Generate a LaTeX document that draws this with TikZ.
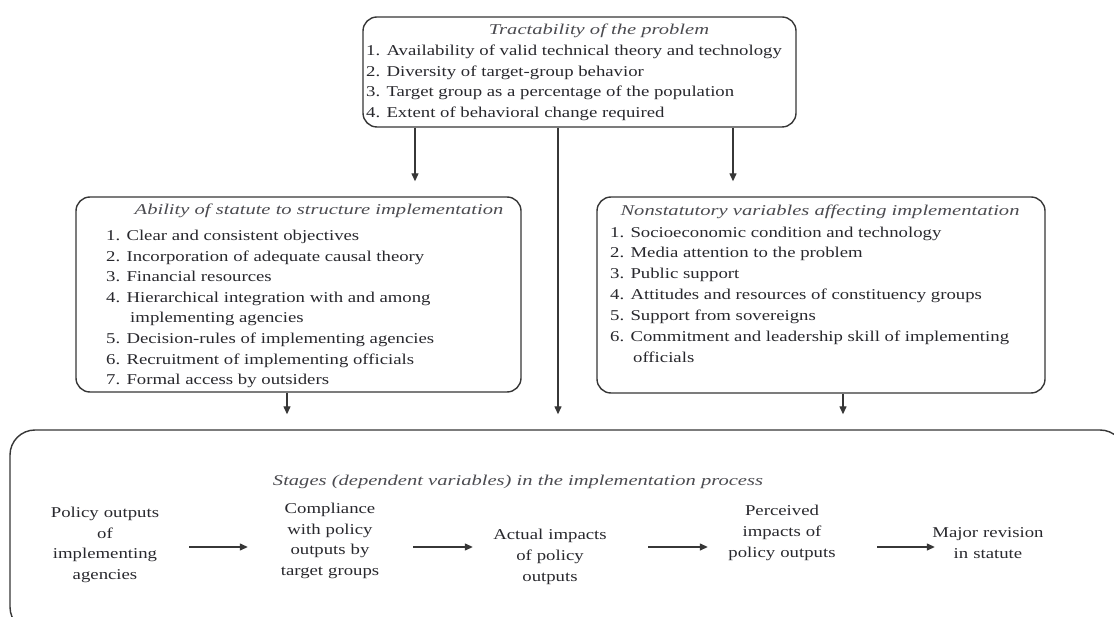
\documentclass[tikz,border=0pt]{standalone}
\usepackage{fontspec}
\setmainfont{Liberation Serif}[FakeStretch=1.25]
\newfontfamily\ttlfont{Liberation Serif}[FakeStretch=1.37]
\usetikzlibrary{arrows.meta,calc}
\definecolor{ink}{RGB}{40,40,45}
\definecolor{linec}{RGB}{55,55,55}
\definecolor{ttlc}{RGB}{75,75,80}
\tikzset{
  panel/.style={draw=linec, line width=1.4pt, rounded corners=14pt, inner sep=0pt},
  bodyline/.style={inner sep=0pt, text=ink, font=\fontsize{15}{20}\selectfont, anchor=base west},
  ttl/.style={inner sep=0pt, text=ttlc, font=\ttlfont\itshape\fontsize{15}{20}\selectfont, anchor=base},
  stage/.style={inner sep=0pt, text=ink, font=\fontsize{15}{20.8}\selectfont, align=center},
  arr/.style={draw=linec, line width=1.3pt, -{Triangle[length=8pt,width=7pt]}},
}
\begin{document}
\begin{tikzpicture}[x=1pt,y=-1pt]
\useasboundingbox (0,0) rectangle (1114,617);
\clip (0,0) rectangle (1114,617);
\fill[white] (0,0) rectangle (1114,617);

% boxes
\node[panel, minimum width=433pt, minimum height=110pt] (top) at (579.5,72) {};
\node[panel, minimum width=445pt, minimum height=195pt] (left) at (298.5,294.5) {};
\node[panel, minimum width=448pt, minimum height=196pt] (right) at (821,295) {};
\node[panel, rounded corners=25pt, minimum width=1115pt, minimum height=202pt] (bottom) at (567.5,531) {};

% top box text
\node[ttl] (ttop) at (599,35) {Tractability of the problem};
\node[bodyline] (t1) at (366,56) {1. Availability of valid technical theory and technology};
\node[bodyline] (t2) at (366,76.5) {2. Diversity of target-group behavior};
\node[bodyline] (t3) at (366,97) {3. Target group as a percentage of the population};
\node[bodyline] (t4) at (366,117.5) {4. Extent of behavioral change required};

% left box text
\node[ttl] (tleft) at (319,215) {Ability of statute to structure implementation};
\node[bodyline] (l1) at (106,241) {1. Clear and consistent objectives};
\node[bodyline] (l2) at (106,261.5) {2. Incorporation of adequate causal theory};
\node[bodyline] (l3) at (106,282) {3. Financial resources};
\node[bodyline] (l4) at (106,302.5) {4. Hierarchical integration with and among};
\node[bodyline] (l4b) at (130,323) {implementing agencies};
\node[bodyline] (l5) at (106,344) {5. Decision-rules of implementing agencies};
\node[bodyline] (l6) at (106,364.5) {6. Recruitment of implementing officials};
\node[bodyline] (l7) at (106,385) {7. Formal access by outsiders};

% right box text
\node[ttl] (tright) at (820,216) {Nonstatutory variables affecting implementation};
\node[bodyline] (r1) at (610,238) {1. Socioeconomic condition and technology};
\node[bodyline] (r2) at (610,258) {2. Media attention to the problem};
\node[bodyline] (r3) at (610,279) {3. Public support};
\node[bodyline] (r4) at (610,300) {4. Attitudes and resources of constituency groups};
\node[bodyline] (r5) at (610,321) {5. Support from sovereigns};
\node[bodyline] (r6) at (610,342) {6. Commitment and leadership skill of implementing};
\node[bodyline] (r6b) at (633,363) {officials};

% bottom box
\node[ttl] (tbottom) at (518,485) {Stages (dependent variables) in the implementation process};
\node[stage, text width=120pt] (s1) at (105,545) {Policy outputs\\of\\implementing\\agencies};
\node[stage, text width=130pt] (s2) at (330,541) {Compliance\\with policy\\outputs by\\target groups};
\node[stage, text width=130pt] (s3) at (550,557) {Actual impacts\\of policy\\outputs};
\node[stage, text width=130pt] (s4) at (782,533) {Perceived\\impacts of\\policy outputs};
\node[stage, text width=120pt] (s5) at (988,543) {Major revision\\in statute};

% connectors
\coordinate (xa) at (415,0);
\coordinate (xb) at (733,0);
\coordinate (xc) at (558,0);
\coordinate (xd) at (287,0);
\coordinate (xe) at (843,0);
\coordinate (yy) at (0,547);
\draw[arr, shorten >=15pt] (top.south -| xa) -- (left.north -| xa);
\draw[arr, shorten >=15pt] (top.south -| xb) -- (right.north -| xb);
\draw[arr, shorten >=15pt] (top.south -| xc) -- (bottom.north -| xc);
\draw[arr, shorten >=15pt] (left.south -| xd) -- (bottom.north -| xd);
\draw[arr, shorten >=15pt] (right.south -| xe) -- (bottom.north -| xe);

\draw[arr, shorten <=24pt, shorten >=17pt] (s1.east |- yy) -- (s2.west |- yy);
\draw[arr, shorten <=18pt, shorten >=12pt] (s2.east |- yy) -- (s3.west |- yy);
\draw[arr, shorten <=33pt, shorten >=9pt] (s3.east |- yy) -- (s4.west |- yy);
\draw[arr, shorten <=30pt, shorten >=-7pt] (s4.east |- yy) -- (s5.west |- yy);
\end{tikzpicture}
\end{document}
